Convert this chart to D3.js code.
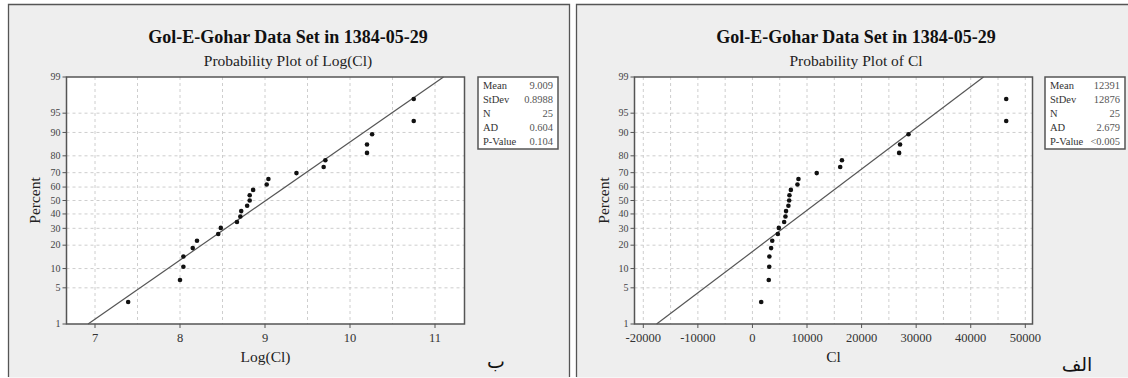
<!DOCTYPE html>
<html><head><meta charset="utf-8">
<script src="https://cdn.jsdelivr.net/npm/d3@7"></script>
<style>
body{margin:0;background:#fff;}
</style></head>
<body><svg id="c" width="1128" height="378"></svg>
<script>
// ---------- data ----------
const percentTicks = [1, 5, 10, 20, 30, 40, 50, 60, 70, 80, 90, 95, 99];
const plotPercents = [2.8, 6.7, 10.6, 14.6, 18.5, 22.4, 26.4, 30.3, 34.3, 38.2, 42.1, 46.1, 50.0,
  53.9, 57.9, 61.8, 65.7, 69.7, 73.6, 77.6, 81.5, 85.4, 89.4, 93.3, 97.2];
const logClValues = [7.39, 8.00, 8.04, 8.04, 8.15, 8.20, 8.45, 8.48, 8.67, 8.71, 8.72, 8.79, 8.82,
  8.82, 8.86, 9.02, 9.04, 9.37, 9.69, 9.71, 10.20, 10.20, 10.26, 10.75, 10.75];
const clValues = [1600, 2990, 3080, 3100, 3420, 3630, 4650, 4830, 5810, 6050, 6160, 6590, 6730,
  6780, 7040, 8250, 8430, 11780, 16080, 16400, 26880, 27050, 28600, 46500, 46500];
const logTicks = [7, 8, 9, 10, 11];
const logGrid = [7, 7.5, 8, 8.5, 9, 9.5, 10, 10.5, 11];
const clTicks = [-20000, -10000, 0, 10000, 20000, 30000, 40000, 50000];
const clGrid = [-20000, -15000, -10000, -5000, 0, 5000, 10000, 15000, 20000, 25000, 30000, 35000, 40000, 45000, 50000];
const statLabels = ["Mean", "StDev", "N", "AD", "P-Value"];
const logStats = ["9.009", "0.8988", "25", "0.604", "0.104"];
const clStats = ["12391", "12876", "25", "2.679", "<0.005"];
const logFit = {mean: 9.009, sd: 0.8988};
const clFit = {mean: 12391, sd: 12876};
const mainTitle = "Gol-E-Gohar Data Set in 1384-05-29";

const SERIF = "'Liberation Serif','Times New Roman',serif";

// inverse normal CDF (Acklam)
function qnorm(p){
  const a=[-3.969683028665376e+01,2.209460984245205e+02,-2.759285104469687e+02,1.383577518672690e+02,-3.066479806614716e+01,2.506628277459239e+00];
  const b=[-5.447609879822406e+01,1.615858368580409e+02,-1.556989798598866e+02,6.680131188771972e+01,-1.328068155288572e+01];
  const c=[-7.784894002430293e-03,-3.223964580411365e-01,-2.400758277161838e+00,-2.549732539343734e+00,4.374664141464968e+00,2.938163982698783e+00];
  const d=[7.784695709041462e-03,3.224671290700398e-01,2.445134137142996e+00,3.754408661907416e+00];
  const pl=0.02425;let q,r;
  if(p<pl){q=Math.sqrt(-2*Math.log(p));return (((((c[0]*q+c[1])*q+c[2])*q+c[3])*q+c[4])*q+c[5])/((((d[0]*q+d[1])*q+d[2])*q+d[3])*q+1);}
  if(p>1-pl){q=Math.sqrt(-2*Math.log(1-p));return -(((((c[0]*q+c[1])*q+c[2])*q+c[3])*q+c[4])*q+c[5])/((((d[0]*q+d[1])*q+d[2])*q+d[3])*q+1);}
  q=p-0.5;r=q*q;return (((((a[0]*r+a[1])*r+a[2])*r+a[3])*r+a[4])*r+a[5])*q/(((((b[0]*r+b[1])*r+b[2])*r+b[3])*r+b[4])*r+1);
}

const svg = d3.select("#c");

function panel(cfg){
  const g = svg.append("g");
  g.append("rect").attr("x",cfg.px0).attr("y",4.5).attr("width",cfg.px1-cfg.px0).attr("height",373)
    .attr("fill","#eeeeee");
  g.append("path").attr("d",`M${cfg.px0},377V4.5H${cfg.px1}V377`).attr("fill","none").attr("stroke","#555").attr("stroke-width",1.3);

  const x = d3.scaleLinear().domain(cfg.xDom).range(cfg.xRange);
  const y = d3.scaleLinear().domain([qnorm(0.01), qnorm(0.99)]).range([324, 77]);
  const L = cfg.plotL, R = cfg.plotL + 398, T = 77, B = 324;

  g.append("rect").attr("x",L).attr("y",T).attr("width",R-L).attr("height",B-T).attr("fill","#fff");
  g.selectAll(".vg").data(cfg.grid).enter().append("line")
    .attr("x1",d=>x(d)).attr("x2",d=>x(d)).attr("y1",T).attr("y2",B)
    .attr("stroke","#c8c8c8").attr("stroke-dasharray","3,3").attr("stroke-width",0.9);
  g.selectAll(".hg").data(percentTicks.slice(1,-1)).enter().append("line")
    .attr("x1",L).attr("x2",R).attr("y1",d=>y(qnorm(d/100))).attr("y2",d=>y(qnorm(d/100)))
    .attr("stroke","#c8c8c8").attr("stroke-dasharray","3,3").attr("stroke-width",0.9);

  const z0 = qnorm(0.01), z1 = qnorm(0.99);
  g.append("line")
    .attr("x1",x(cfg.fit.mean+z0*cfg.fit.sd)).attr("y1",y(z0))
    .attr("x2",x(cfg.fit.mean+z1*cfg.fit.sd)).attr("y2",y(z1))
    .attr("stroke","#555").attr("stroke-width",1.2);

  g.selectAll(".pt").data(cfg.values).enter().append("circle")
    .attr("cx",d=>x(d)).attr("cy",(d,i)=>y(qnorm(plotPercents[i]/100)))
    .attr("r",2.3).attr("fill","#111");

  g.append("rect").attr("x",L).attr("y",T).attr("width",R-L).attr("height",B-T)
    .attr("fill","none").attr("stroke","#555").attr("stroke-width",1.5);

  g.selectAll(".yt").data(percentTicks).enter().append("line")
    .attr("x1",L-4).attr("x2",L).attr("y1",d=>y(qnorm(d/100))).attr("y2",d=>y(qnorm(d/100)))
    .attr("stroke","#555").attr("stroke-width",1);
  g.selectAll(".yl").data(percentTicks).enter().append("text")
    .attr("x",L-6).attr("y",d=>y(qnorm(d/100))+3.3).attr("text-anchor","end")
    .attr("font-family",SERIF).attr("font-size",10).attr("fill","#444").text(d=>d);
  g.selectAll(".xt").data(cfg.ticks).enter().append("line")
    .attr("x1",d=>x(d)).attr("x2",d=>x(d)).attr("y1",B).attr("y2",B+4)
    .attr("stroke","#555").attr("stroke-width",1);
  g.selectAll(".xl").data(cfg.ticks).enter().append("text")
    .attr("x",d=>x(d)).attr("y",342).attr("text-anchor","middle")
    .attr("font-family",SERIF).attr("font-size",12.5).attr("fill","#333").text(d=>d);

  g.append("text").attr("x",(L+R)/2).attr("y",362).attr("text-anchor","middle")
    .attr("font-family",SERIF).attr("font-size",15.5).attr("fill","#222").text(cfg.xLabel);
  g.append("text").attr("transform",`translate(${cfg.yLabX},200.5) rotate(-90)`).attr("text-anchor","middle")
    .attr("font-family",SERIF).attr("font-size",15.5).attr("fill","#222").text("Percent");

  const cx = cfg.titleX;
  g.append("text").attr("x",cx).attr("y",43).attr("text-anchor","middle")
    .attr("font-family",SERIF).attr("font-size",18).attr("font-weight","bold").attr("fill","#111").text(mainTitle);
  g.append("text").attr("x",cx).attr("y",65.5).attr("text-anchor","middle")
    .attr("font-family",SERIF).attr("font-size",15.5).attr("fill","#222").text(cfg.subtitle);

  const lx = cfg.legX, lw = 80;
  g.append("rect").attr("x",lx).attr("y",77).attr("width",lw).attr("height",72)
    .attr("fill","#fff").attr("stroke","#555").attr("stroke-width",1.5);
  statLabels.forEach((s,i)=>{
    g.append("text").attr("x",lx+5).attr("y",89+i*13.9).attr("font-family",SERIF).attr("font-size",10.5).attr("fill","#333").text(s);
    g.append("text").attr("x",lx+lw-5).attr("y",89+i*13.9).attr("text-anchor","end")
      .attr("font-family",SERIF).attr("font-size",10.5).attr("fill","#555").text(cfg.stats[i]);
  });

  g.append("text").attr("x",cfg.letterX).attr("y",cfg.letterY).attr("text-anchor","middle")
    .attr("font-family","DejaVu Sans").attr("font-size",19).attr("fill","#111").text(cfg.letter);
}

panel({px0:8.5, px1:569.5, plotL:66.5, xDom:[7,11], xRange:[95,435], grid:logGrid, ticks:logTicks,
  values:logClValues, fit:logFit, xLabel:"Log(Cl)", subtitle:"Probability Plot of Log(Cl)",
  stats:logStats, legX:478, yLabX:40, titleX:288, letter:"ب", letterX:496, letterY:368});
panel({px0:576.5, px1:1132, plotL:634.5, xDom:[-20000,50000], xRange:[643.3,1025.3], grid:clGrid, ticks:clTicks,
  values:clValues, fit:clFit, xLabel:"Cl", subtitle:"Probability Plot of Cl",
  stats:clStats, legX:1045, yLabX:609, titleX:856, letter:"الف", letterX:1077, letterY:371});
</script></body></html>
